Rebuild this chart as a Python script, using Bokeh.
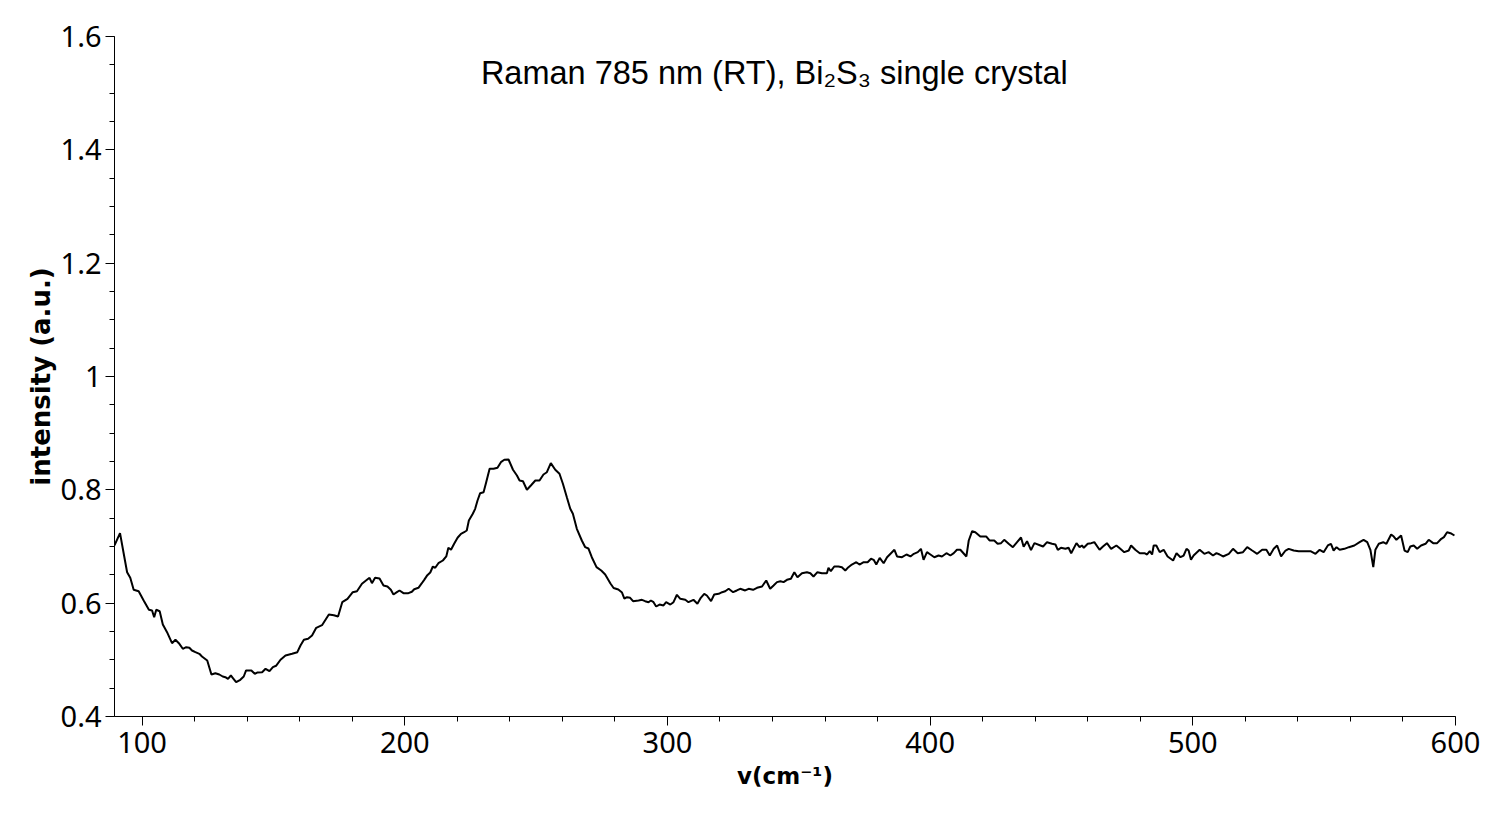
from bokeh.plotting import figure
from bokeh.models import Range1d, SingleIntervalTicker, CustomJSTickFormatter, Label
from bokeh.embed import file_html
from bokeh.resources import INLINE

# Raman shift (cm^-1) and intensity (a.u.)
wavenumber = [
    89.5, 91.6, 93.0, 94.3, 95.5, 96.8, 98.7, 100.6, 102.6, 103.8, 104.6, 105.4, 106.7, 107.9, 109.5,
    111.4, 112.7, 114.0, 115.5, 116.8, 118.0, 119.0, 120.3, 121.8, 122.8, 124.8, 126.4, 127.9, 129.4,
    130.7, 131.7, 132.7, 133.8, 134.5, 135.8, 137.4, 138.7, 139.6, 141.6, 142.9, 143.8, 145.7, 147.0,
    148.5, 149.8, 151.0, 152.7, 154.6, 157.1, 159.1, 160.3, 161.6, 163.2, 164.7, 166.3, 168.5, 171.1,
    173.0, 174.6, 176.2, 178.2, 180.2, 181.8, 183.7, 185.6, 186.6, 187.5, 188.7, 190.4, 191.9, 193.4,
    194.7, 195.7, 197.0, 198.0, 199.5, 201.4, 202.7, 203.6, 205.2, 206.5, 207.4, 208.6, 209.7, 210.7,
    211.6, 212.8, 214.5, 215.8, 216.6, 217.6, 218.8, 220.1, 221.4, 222.6, 223.6, 224.4, 225.9, 226.8,
    227.7, 228.7, 230.0, 231.0, 232.3, 233.8, 235.3, 236.6, 237.9, 239.5, 241.2, 242.7, 243.7, 245.0,
    246.5, 248.0, 249.7, 251.3, 252.8, 254.1, 255.6, 257.3, 258.9, 260.2, 261.7, 263.0, 264.0, 265.5,
    267.4, 268.7, 269.9, 271.2, 273.0, 274.8, 276.3, 278.3, 279.5, 281.3, 282.7, 283.6, 284.6, 285.8,
    286.9, 289.0, 290.3, 291.5, 292.8, 293.7, 294.7, 295.7, 297.0, 298.5, 299.5, 301.1, 302.3, 303.6,
    304.9, 306.8, 308.0, 309.9, 311.4, 312.7, 314.0, 315.0, 316.6, 317.8, 319.5, 320.8, 322.0, 323.3,
    325.0, 326.4, 327.7, 329.6, 330.9, 332.6, 334.1, 336.0, 337.6, 339.1, 340.4, 341.7, 343.0, 344.2,
    345.5, 347.0, 348.3, 349.5, 351.2, 353.1, 354.4, 355.6, 357.1, 358.8, 360.7, 361.3, 362.2, 363.5,
    365.1, 366.4, 367.7, 368.9, 370.2, 371.9, 373.1, 374.7, 376.2, 377.5, 378.5, 379.5, 380.8, 382.3,
    383.6, 385.1, 386.4, 387.4, 389.3, 391.0, 392.5, 393.8, 395.3, 396.5, 397.5, 398.8, 400.1, 401.6,
    403.2, 404.5, 406.2, 407.7, 409.0, 410.2, 411.5, 413.8, 414.7, 416.0, 417.2, 419.1, 421.4, 422.6,
    424.4, 425.7, 427.0, 428.2, 429.9, 431.5, 433.1, 434.6, 435.6, 436.9, 438.4, 439.7, 442.0, 443.0,
    444.5, 446.4, 447.7, 448.6, 449.8, 451.5, 452.7, 453.7, 455.7, 456.9, 457.8, 458.5, 460.0, 461.3,
    462.5, 464.5, 465.8, 467.3, 468.9, 470.9, 472.4, 473.9, 475.6, 476.5, 478.1, 479.8, 481.6, 482.6,
    483.6, 484.5, 485.1, 486.1, 487.4, 488.9, 490.4, 492.5, 493.8, 495.3, 496.5, 497.6, 498.4, 499.3,
    500.3, 502.6, 504.4, 506.0, 507.7, 509.0, 510.2, 511.5, 513.7, 515.3, 517.1, 519.1, 520.7, 522.6,
    524.5, 526.4, 528.0, 529.3, 530.8, 532.1, 533.6, 535.3, 536.5, 538.4, 540.3, 544.8, 546.7, 548.3,
    549.8, 551.4, 552.6, 553.6, 554.7, 555.9, 557.7, 559.4, 561.5, 563.5, 565.0, 566.4, 567.6, 568.7,
    569.5, 570.8, 572.5, 573.7, 575.5, 576.5, 577.5, 579.3, 580.6, 581.8, 582.8, 584.1, 585.4, 586.9,
    588.6, 589.8, 591.5, 593.0, 594.6, 595.6, 596.8, 598.1, 599.6,
]
intensity = [
    0.702, 0.7235, 0.6876, 0.6546, 0.6448, 0.6236, 0.6211, 0.6047, 0.5883, 0.5871, 0.5752, 0.5883, 0.5858, 0.5624, 0.5488,
    0.5294, 0.5354, 0.5294, 0.5195, 0.5223, 0.5212, 0.5165, 0.5135, 0.5106, 0.5059, 0.4988, 0.4741, 0.4764, 0.4741,
    0.4706, 0.4694, 0.4665, 0.4724, 0.4683, 0.4605, 0.4648, 0.4706, 0.4812, 0.4812, 0.4754, 0.4776, 0.4782, 0.4842,
    0.4799, 0.4870, 0.4895, 0.5001, 0.5076, 0.5106, 0.5135, 0.5253, 0.5354, 0.5371, 0.5429, 0.5565, 0.5611, 0.5800,
    0.5788, 0.5765, 0.6017, 0.6077, 0.6194, 0.6211, 0.6342, 0.6412, 0.6448, 0.6352, 0.6448, 0.6435, 0.6312, 0.6294,
    0.6236, 0.6153, 0.6194, 0.6224, 0.6176, 0.6176, 0.6201, 0.6246, 0.6271, 0.6352, 0.6412, 0.6494, 0.6541, 0.6647,
    0.6624, 0.6705, 0.6753, 0.6824, 0.6977, 0.6942, 0.7048, 0.7154, 0.7224, 0.7252, 0.7282, 0.7459, 0.7577, 0.7665,
    0.7812, 0.7941, 0.7958, 0.8135, 0.8371, 0.8371, 0.8389, 0.8488, 0.8530, 0.8535, 0.8354, 0.8253, 0.8165, 0.8152,
    0.8001, 0.8076, 0.8165, 0.8165, 0.8271, 0.8311, 0.8471, 0.8354, 0.8283, 0.8107, 0.7870, 0.7665, 0.7577, 0.7312,
    0.7106, 0.6988, 0.6965, 0.6811, 0.6635, 0.6576, 0.6506, 0.6347, 0.6268, 0.6241, 0.6188, 0.6082, 0.6105, 0.6094,
    0.6035, 0.6047, 0.6059, 0.6035, 0.6017, 0.6047, 0.6017, 0.5941, 0.5976, 0.5959, 0.6017, 0.5976, 0.6017, 0.6148,
    0.6077, 0.6059, 0.6017, 0.6059, 0.5989, 0.6094, 0.6165, 0.6135, 0.6035, 0.6153, 0.6165, 0.6194, 0.6211, 0.6254,
    0.6194, 0.6224, 0.6254, 0.6224, 0.6254, 0.6236, 0.6271, 0.6294, 0.6400, 0.6254, 0.6312, 0.6371, 0.6388, 0.6371,
    0.6412, 0.6430, 0.6547, 0.6458, 0.6529, 0.6547, 0.6529, 0.6471, 0.6547, 0.6529, 0.6529, 0.6624, 0.6564, 0.6647,
    0.6647, 0.6635, 0.6576, 0.6635, 0.6682, 0.6723, 0.6682, 0.6723, 0.6723, 0.6783, 0.6765, 0.6682, 0.6800, 0.6705,
    0.6811, 0.6882, 0.6942, 0.6824, 0.6811, 0.6859, 0.6824, 0.6871, 0.6900, 0.6959, 0.6765, 0.6900, 0.6859, 0.6811,
    0.6841, 0.6824, 0.6882, 0.6841, 0.6882, 0.6942, 0.6942, 0.6824, 0.7106, 0.7270, 0.7252, 0.7176, 0.7176, 0.7106,
    0.7106, 0.7048, 0.7059, 0.7118, 0.7048, 0.6988, 0.7076, 0.7159, 0.6995, 0.7094, 0.6935, 0.7059, 0.7018, 0.7000,
    0.7076, 0.7048, 0.7035, 0.6942, 0.6977, 0.6959, 0.6977, 0.6882, 0.7059, 0.6988, 0.7018, 0.6977, 0.7048, 0.7059,
    0.7076, 0.6942, 0.7000, 0.7059, 0.6959, 0.7018, 0.6959, 0.6900, 0.6929, 0.7018, 0.6942, 0.6882, 0.6882, 0.6859,
    0.6917, 0.6859, 0.7018, 0.7018, 0.6900, 0.6942, 0.6824, 0.6753, 0.6882, 0.6811, 0.6841, 0.6959, 0.6929, 0.6765,
    0.6841, 0.6942, 0.6871, 0.6900, 0.6841, 0.6882, 0.6859, 0.6824, 0.6871, 0.6959, 0.6882, 0.6900, 0.6988, 0.6929,
    0.6871, 0.6942, 0.6942, 0.6841, 0.6959, 0.7018, 0.6824, 0.6929, 0.6959, 0.6929, 0.6917, 0.6917, 0.6871, 0.6942,
    0.6900, 0.7018, 0.7048, 0.6929, 0.6988, 0.6942, 0.6959, 0.6988, 0.7018, 0.7076, 0.7118, 0.7076, 0.6942, 0.6635,
    0.6942, 0.7048, 0.7076, 0.7048, 0.7212, 0.7176, 0.7118, 0.7194, 0.6929, 0.6900, 0.7000, 0.7018, 0.6959, 0.7018,
    0.7048, 0.7118, 0.7059, 0.7059, 0.7136, 0.7165, 0.7252, 0.7235, 0.7194,
]

x_start, x_end = 89.5, 600
y_start, y_end = 0.4, 1.6
title_text = "Raman 785 nm (RT), Bi\u2082S\u2083 single crystal"
x_label = "v(cm\u207b\u00b9)"
y_label = "intensity (a.u.)"

p = figure(width=1498, height=814, output_backend="svg", toolbar_location=None,
           x_range=Range1d(x_start, x_end), y_range=Range1d(y_start, y_end),
           min_border_left=114, min_border_top=36, min_border_right=43, min_border_bottom=98)
p.outline_line_color = None
p.xgrid.visible = False
p.ygrid.visible = False
p.background_fill_color = "white"
p.border_fill_color = "white"

p.line(wavenumber, intensity, line_color="black", line_width=2)

p.xaxis.ticker = SingleIntervalTicker(interval=100, num_minor_ticks=5)
p.yaxis.ticker = SingleIntervalTicker(interval=0.2, num_minor_ticks=4)
p.yaxis.formatter = CustomJSTickFormatter(code="return String(Math.round(tick*10)/10);")

for ax in (p.xaxis[0], p.yaxis[0]):
    ax.axis_line_color = "black"
    ax.major_tick_line_color = "black"
    ax.minor_tick_line_color = "black"
    ax.major_tick_in = 0
    ax.minor_tick_in = 0
    ax.major_tick_out = 9
    ax.minor_tick_out = 5
    ax.major_label_text_font = "Noto Sans"
    ax.major_label_text_font_size = "29px"
    ax.major_label_text_color = "black"
    ax.axis_label_text_font = "DejaVu Sans"
    ax.axis_label_text_font_style = "bold"
    ax.axis_label_text_color = "black"

p.xaxis.axis_label = x_label
p.yaxis.axis_label = y_label
p.xaxis.axis_label_text_font_size = "23px"
p.yaxis.axis_label_text_font_size = "26px"
p.xaxis.major_label_standoff = 6
p.xaxis.axis_label_standoff = 7
p.yaxis.major_label_standoff = 4
p.yaxis.axis_label_standoff = 2

title = Label(x=340.7, y=1.536, text=title_text, text_align="center", text_baseline="middle",
              text_font="Liberation Sans", text_font_size="32.5px", text_color="black")
p.add_layout(title)

open("out.html", "w").write(file_html(p, INLINE))
